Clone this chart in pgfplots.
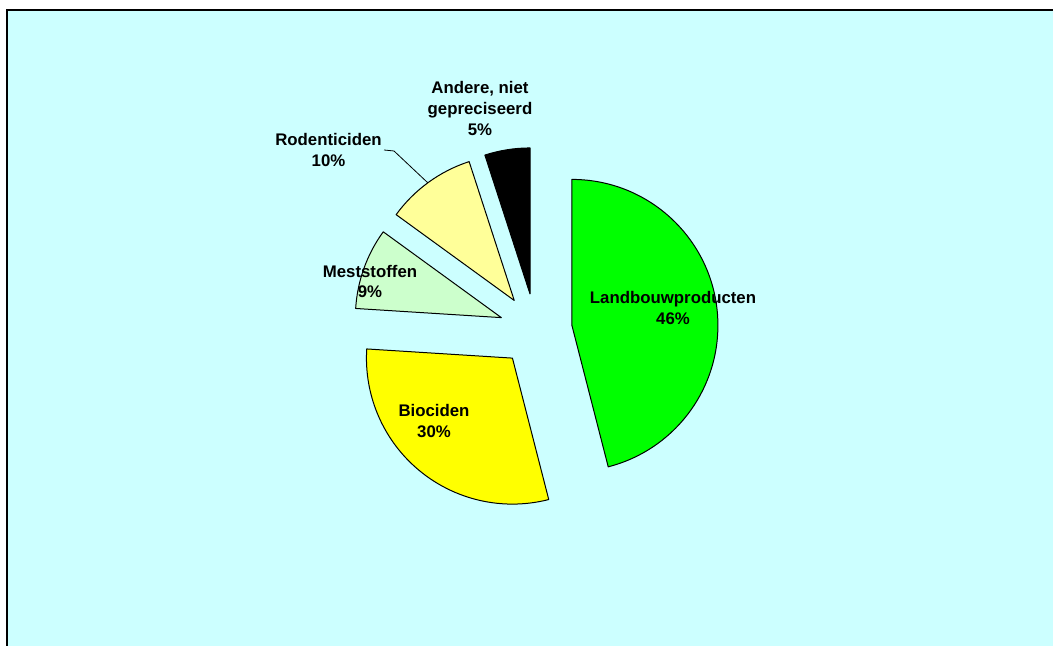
\documentclass[border=0pt]{standalone}
\usepackage{pgfplots}
\pgfplotsset{compat=1.18}
\usepackage{pgfplotstable}
\usepackage{fontspec}
\setmainfont{Liberation Sans}

\definecolor{bgcyan}{RGB}{204,255,255}
\definecolor{slice0}{RGB}{0,255,0}
\definecolor{slice1}{RGB}{255,255,0}
\definecolor{slice2}{RGB}{204,255,204}
\definecolor{slice3}{RGB}{255,255,153}
\definecolor{slice4}{RGB}{0,0,0}

% shares in percent, clockwise from twelve o'clock
\pgfplotstableread{
pct
46
30
9
10
5
}\piedata

% pie geometry in axis units (1 unit = 0.5pt)
\def\cx{535.7}\def\cy{316}\def\gap{36.5}
\def\radius{73pt}
\newcommand\lbl{\fontsize{8.4}{10}\selectfont\bfseries}

\begin{document}
\begin{tikzpicture}
% start/end angles and exploded apex of every slice
\gdef\cum{0}
\pgfplotstableforeachcolumnelement{pct}\of\piedata\as\v{%
  \pgfmathsetmacro\sa{90-3.6*\cum}%
  \pgfmathsetmacro\sb{90-3.6*(\cum+\v)}%
  \pgfmathsetmacro\md{(\sa+\sb)/2}%
  \pgfmathsetmacro\ax{\cx+\gap*cos(\md)}%
  \pgfmathsetmacro\ay{\cy+\gap*sin(\md)}%
  \expandafter\xdef\csname sa\pgfplotstablerow\endcsname{\sa}%
  \expandafter\xdef\csname sb\pgfplotstablerow\endcsname{\sb}%
  \expandafter\xdef\csname ax\pgfplotstablerow\endcsname{\ax}%
  \expandafter\xdef\csname ay\pgfplotstablerow\endcsname{\ay}%
  \pgfmathparse{\cum+\v}\xdef\cum{\pgfmathresult}%
}%
\begin{axis}[
  name=pie,
  scale only axis, width=526.5pt, height=323pt,
  xmin=0, xmax=1053, ymin=0, ymax=646,
  hide axis, clip=false]
  % chart area
  \fill[white] (axis cs:0,0) rectangle (axis cs:1053,646);
  \fill[bgcyan] (axis cs:7,0) rectangle (axis cs:1053,636);
  \draw[line width=1.3pt] (axis cs:7,0) -- (axis cs:7,636) -- (axis cs:1053,636);
  % slices
  \pgfplotsinvokeforeach{0,...,4}{
    \draw[fill=slice#1, line width=0.5pt, line join=round]
      (axis cs:\csname ax#1\endcsname,\csname ay#1\endcsname)
      -- ++(\csname sa#1\endcsname:\radius)
      arc[start angle=\csname sa#1\endcsname, end angle=\csname sb#1\endcsname, radius=\radius]
      -- cycle;
  }
  % leader line
  \draw[line width=0.4pt] (axis cs:384,496) -- (axis cs:394,495) -- (axis cs:428,463);
  % labels
  \node[anchor=base, font=\lbl] at (axis cs:673,342) {Landbouwproducten};
  \node[anchor=base, font=\lbl] at (axis cs:673,321) {46\%};
  \node[anchor=base, font=\lbl] at (axis cs:434,229) {Biociden};
  \node[anchor=base, font=\lbl] at (axis cs:434,208) {30\%};
  \node[anchor=base, font=\lbl] at (axis cs:370,368) {Meststoffen};
  \node[anchor=base, font=\lbl] at (axis cs:370,348) {9\%};
  \node[anchor=base, font=\lbl] at (axis cs:328.5,500) {Rodenticiden};
  \node[anchor=base, font=\lbl] at (axis cs:328.5,479) {10\%};
  \node[anchor=base, font=\lbl] at (axis cs:480,552) {Andere, niet};
  \node[anchor=base, font=\lbl] at (axis cs:480,531) {gepreciseerd};
  \node[anchor=base, font=\lbl] at (axis cs:480,510) {5\%};
\end{axis}
\pgfresetboundingbox
\path (pie.south west) rectangle (pie.north east);
\end{tikzpicture}
\end{document}
